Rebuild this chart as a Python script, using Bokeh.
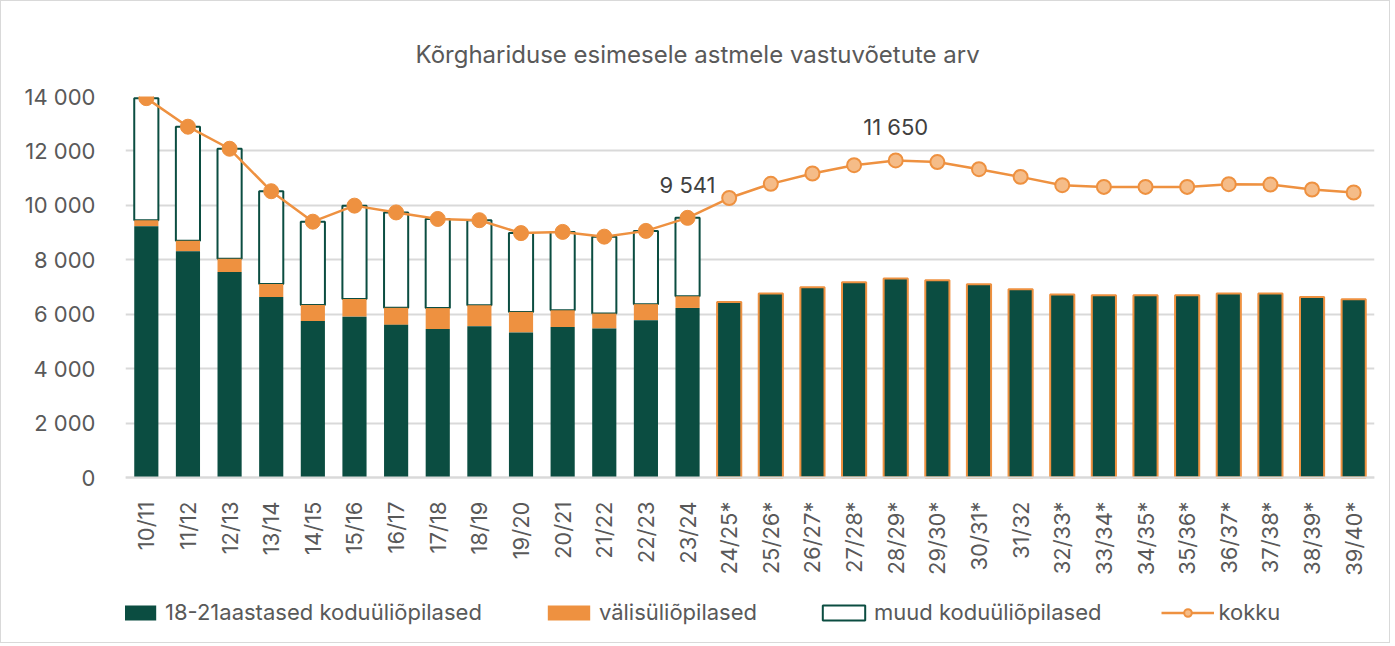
import math
from bokeh.plotting import figure
from bokeh.models import (ColumnDataSource, FactorRange, Range1d, Legend, LegendItem,
                          FixedTicker)
from bokeh.core.properties import value
from bokeh.embed import file_html
from bokeh.resources import INLINE

# ---------------- data ----------------
hist_cats = ["10/11", "11/12", "12/13", "13/14", "14/15", "15/16", "16/17", "17/18",
             "18/19", "19/20", "20/21", "21/22", "22/23", "23/24"]
fc_cats = ["24/25*", "25/26*", "26/27*", "27/28*", "28/29*", "29/30*", "30/31*", "31/32",
           "32/33*", "33/34*", "34/35*", "35/36*", "36/37*", "37/38*", "38/39*", "39/40*"]

hist_1821 = [9230, 8310, 7550, 6630, 5750, 5910, 5610, 5455, 5560, 5330, 5530, 5475, 5780, 6230]
hist_foreign = [220, 390, 490, 480, 590, 650, 625, 770, 770, 755, 615, 550, 590, 430]
hist_total = [13940, 12890, 12080, 10520, 9400, 9990, 9740, 9500, 9455, 8980, 9025, 8850, 9062, 9541]

fc_1821 = [6450, 6760, 6990, 7175, 7310, 7250, 7100, 6920, 6720, 6700, 6700, 6700, 6760, 6760, 6635, 6550]
fc_total = [10270, 10790, 11170, 11475, 11650, 11590, 11330, 11046, 10741, 10679, 10679, 10679,
            10778, 10765, 10583, 10473]

label_cats = ["23/24", "28/29*"]
label_vals = [9541, 11650]
label_texts = ["9 541", "11 650"]

y_ticks = [0, 2000, 4000, 6000, 8000, 10000, 12000, 14000]
y_tick_labels = ["0", "2 000", "4 000", "6 000", "8 000", "10 000", "12 000", "14 000"]

# ---------------- style / layout ----------------
GREEN = "#0B4D41"
ORANGE = "#EE9140"
LIGHT_ORANGE = "#F5BC88"
TEXT = "#595959"
GRID = "#D9D9D9"
FONT = "Inter"
FS = "22px"

W, H = 1390, 643
TOP, BOTTOM, LEFT, RIGHT = 95, 2, 124, 17
FRAME_H = H - TOP - BOTTOM
PLOT_H = 381            # pixels between the 14 000 line and the 0 line
YMAX = 14000
YMIN = -YMAX * (FRAME_H - PLOT_H) / PLOT_H   # room under the bars for labels + legend

cats = hist_cats + fc_cats
hist_orange_top = [a + b for a, b in zip(hist_1821, hist_foreign)]

src_h = ColumnDataSource(dict(cat=hist_cats, g=hist_1821, o=hist_orange_top, t=hist_total,
                              zero=[0] * len(hist_cats)))
src_f = ColumnDataSource(dict(cat=fc_cats, g=fc_1821, t=fc_total, zero=[0] * len(fc_cats)))
src_all = ColumnDataSource(dict(cat=cats, t=hist_total + fc_total))

p = figure(x_range=FactorRange(*cats), y_range=Range1d(YMIN, YMAX),
           width=W, height=H, output_backend="svg", toolbar_location=None,
           min_border_left=LEFT, min_border_right=RIGHT, min_border_top=TOP,
           min_border_bottom=BOTTOM)
p.styles = {"border": "1px solid #D9D9D9"}
p.outline_line_color = None
p.background_fill_color = "white"

BW = 0.58
r_w = p.vbar(x="cat", bottom="o", top="t", width=BW, source=src_h,
             fill_color="white", line_color=GREEN, line_width=2)
r_o = p.vbar(x="cat", bottom="g", top="o", width=BW, source=src_h,
             fill_color=ORANGE, line_color=None)
r_g = p.vbar(x="cat", bottom="zero", top="g", width=BW, source=src_h,
             fill_color=GREEN, line_color=None)
r_gf = p.vbar(x="cat", bottom="zero", top="g", width=BW, source=src_f,
              fill_color=GREEN, line_color=ORANGE, line_width=2)

r_line = p.line(x="cat", y="t", source=src_all, line_color=ORANGE, line_width=2.5)
r_dh = p.scatter(x="cat", y="t", source=src_h, size=15, fill_color=ORANGE, line_color=ORANGE)
r_df = p.scatter(x="cat", y="t", source=src_f, size=14, fill_color=LIGHT_ORANGE,
                 line_color=ORANGE, line_width=2)

p.text(x=label_cats, y=label_vals, text=label_texts, text_align="center",
       text_baseline="middle", y_offset=-33, text_font=value(FONT),
       text_font_size=FS, text_color="#404040")

# axes
p.yaxis.ticker = FixedTicker(ticks=y_ticks)
p.yaxis.major_label_overrides = {t: l for t, l in zip(y_ticks, y_tick_labels)}
p.yaxis.axis_line_color = None
p.yaxis.major_tick_line_color = None
p.yaxis.minor_tick_line_color = None
p.yaxis.major_label_standoff = 24
p.yaxis.major_label_text_font = FONT
p.yaxis.major_label_text_font_size = FS
p.yaxis.major_label_text_color = TEXT

p.xaxis.fixed_location = 0
p.xaxis.axis_line_color = GRID
p.xaxis.axis_line_width = 2
p.xaxis.major_tick_line_color = None
p.xaxis.minor_tick_line_color = None
p.xaxis.major_label_orientation = math.pi / 2
p.xaxis.major_label_standoff = 18
p.xaxis.major_label_text_font = FONT
p.xaxis.major_label_text_font_size = FS
p.xaxis.major_label_text_color = TEXT

p.xgrid.grid_line_color = None
p.ygrid.grid_line_color = GRID
p.ygrid.grid_line_width = 2

# title
p.title.text = "Kõrghariduse esimesele astmele vastuvõetute arv"
p.title.align = "left"
p.title.offset = 290
p.title.standoff = 56
p.title.text_font = FONT
p.title.text_font_size = "24px"
p.title.text_font_style = "normal"
p.title.text_color = TEXT

legend = Legend(items=[
    LegendItem(label="18-21aastased koduüliõpilased", renderers=[r_g]),
    LegendItem(label="välisüliõpilased", renderers=[r_o]),
    LegendItem(label="muud koduüliõpilased", renderers=[r_w]),
    LegendItem(label="kokku", renderers=[r_line, r_df]),
], orientation="horizontal", location=(-17, 17), glyph_width=53, glyph_height=19,
    label_standoff=4, spacing=60, padding=0, margin=0, border_line_color=None,
    background_fill_alpha=0, label_text_font=FONT, label_text_font_size=FS,
    label_text_color=TEXT)
p.add_layout(legend)

open("out.html", "w").write(file_html(p, INLINE))
